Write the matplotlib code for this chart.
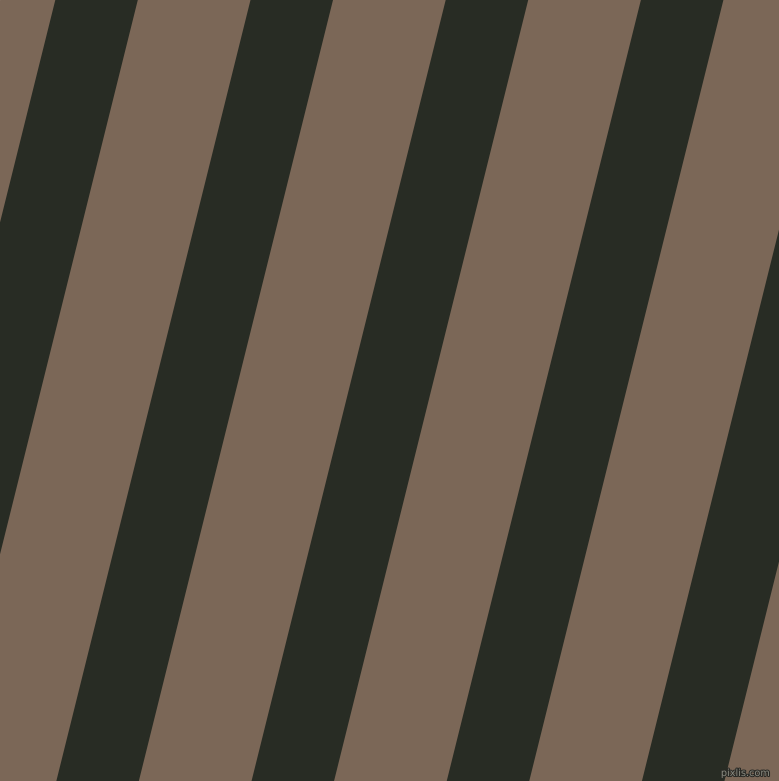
import matplotlib.pyplot as plt
import matplotlib.patheffects as pe

# stripe pattern, measured in pixels of the 779x781 picture
width_px, height_px = 779, 781
light_color = '#7b6757'
dark_color = '#282c24'
stripe_period = 195.2      # horizontal distance between dark stripes
dark_width = 82.5          # horizontal width of a dark stripe
first_left_edge = 55.3     # left edge of first dark stripe on the top row
slope = 0.2486             # x shift per pixel going down
stripe_index = [-1, 0, 1, 2, 3, 4, 5]

fig = plt.figure(figsize=(width_px / 100, height_px / 100), dpi=100)
ax = fig.add_axes([0, 0, 1, 1])
ax.set_xlim(0, width_px)
ax.set_ylim(height_px, 0)
ax.axis('off')
ax.add_patch(plt.Rectangle((0, 0), width_px, height_px, color=light_color, zorder=0))

y_top, y_bot = -20, height_px + 20
for k in stripe_index:
    left = first_left_edge + k * stripe_period
    xs = [left - slope * y_top, left + dark_width - slope * y_top,
          left + dark_width - slope * y_bot, left - slope * y_bot]
    ys = [y_top, y_top, y_bot, y_bot]
    ax.fill(xs, ys, color=dark_color, lw=0, zorder=1)

ax.text(770, 773, 'pixlis.com', ha='right', va='center', fontsize=7,
        color='#8a8a80', zorder=2,
        path_effects=[pe.withStroke(linewidth=1.5, foreground='#2a2a26')])

plt.savefig('out.png', dpi=100)
